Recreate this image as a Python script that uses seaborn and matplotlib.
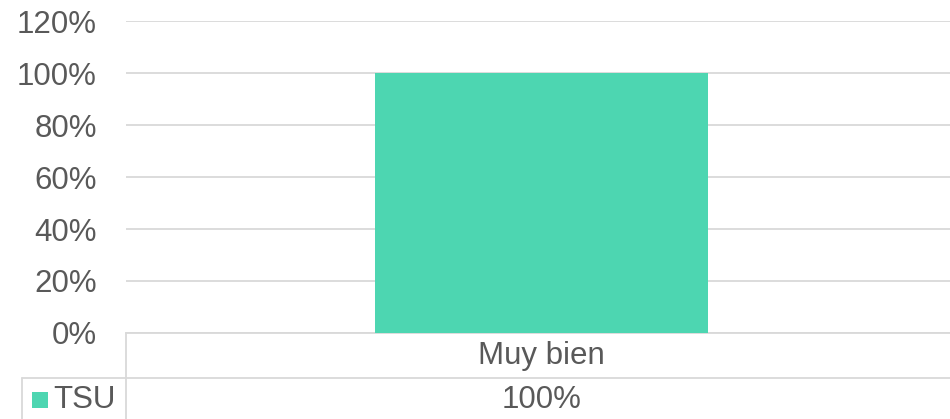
import matplotlib
matplotlib.use("Agg")
import matplotlib.pyplot as plt
import seaborn as sns
import pandas as pd
from matplotlib.lines import Line2D
from matplotlib.patches import Rectangle

categories = ["Muy bien"]
series_name = "TSU"
values = [1.00]
y_ticks = [0, 0.2, 0.4, 0.6, 0.8, 1.0, 1.2]
y_tick_labels = ["0%", "20%", "40%", "60%", "80%", "100%", "120%"]
value_labels = ["100%"]

sns.set_theme(style="white")
plt.rcParams["font.family"] = ["Liberation Sans", "DejaVu Sans"]

W, H = 950, 419
fig = plt.figure(figsize=(W / 100, H / 100), dpi=100)
fig.patch.set_facecolor("white")

def fx(px):
    return px / W

def fy(py):
    return 1 - py / H

left, right, top, bottom = 126, 957, 21, 333
ax = fig.add_axes([fx(left), fy(bottom), fx(right - left), fy(top) - fy(bottom)])

bar_color = "#4DD6B1"
text_color = "#595959"
grid_color = "#D9D9D9"
fs = 22.5

df = pd.DataFrame({"cat": categories, "val": values})
sns.barplot(data=df, x="cat", y="val", color=bar_color, width=0.40,
            saturation=1, ax=ax, zorder=3, linewidth=0, edgecolor="none")

ax.set_ylim(0, 1.2)
ax.set_xlim(-0.5, 0.5)
ax.set_yticks(y_ticks)
ax.set_yticklabels(y_tick_labels, color=text_color, fontsize=fs)
ax.tick_params(axis="y", length=0, pad=21)
ax.tick_params(axis="x", length=0, pad=6, labelsize=fs, labelcolor=text_color)
ax.set_xlabel("")
ax.set_ylabel("")
ax.yaxis.grid(True, color=grid_color, linewidth=1.3, zorder=0)
for s in ["top", "right", "left"]:
    ax.spines[s].set_visible(False)
ax.spines["bottom"].set_color(grid_color)
ax.spines["bottom"].set_linewidth(1.3)
ax.set_facecolor("white")

# data table
lw = 1.3
fig.add_artist(Line2D([fx(22), fx(W)], [fy(378), fy(378)], color=grid_color, lw=lw))
fig.add_artist(Line2D([fx(126), fx(126)], [fy(333), fy(H)], color=grid_color, lw=lw))
fig.add_artist(Line2D([fx(22), fx(22)], [fy(378), fy(H)], color=grid_color, lw=lw))

fig.add_artist(Rectangle((fx(32), fy(408)), fx(16), fy(392) - fy(408),
                         facecolor=bar_color, edgecolor="none"))
fig.text(fx(53), fy(400), series_name, color=text_color, fontsize=fs,
         ha="left", va="center")
for i, lab in enumerate(value_labels):
    xd = ax.transData.transform((i, 0))[0]
    xf = fig.transFigure.inverted().transform((xd, 0))[0]
    fig.text(xf, fy(400), lab, color=text_color, fontsize=fs,
             ha="center", va="center")

fig.savefig("out.png", dpi=100, facecolor="white")
